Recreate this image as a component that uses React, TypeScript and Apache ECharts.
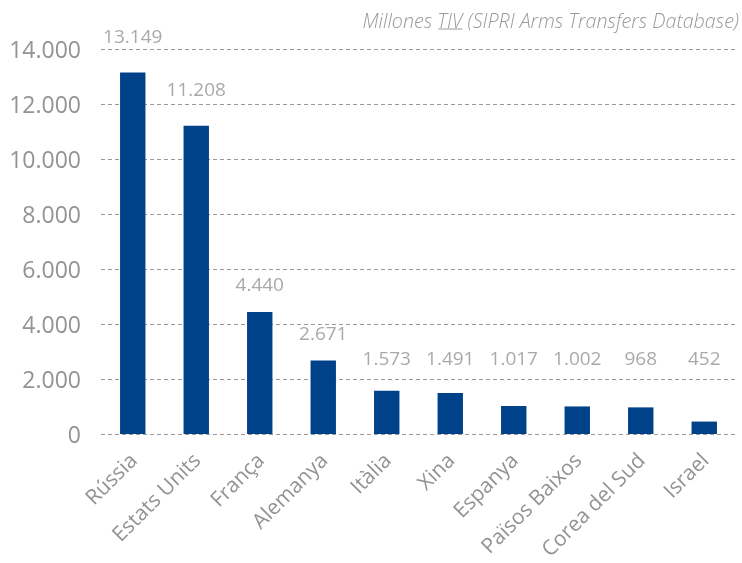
import React, { useEffect, useRef } from "react";
import * as echarts from "echarts";

const categories = [
  "Rússia",
  "Estats Units",
  "França",
  "Alemanya",
  "Itàlia",
  "Xina",
  "Espanya",
  "Països Baixos",
  "Corea del Sud",
  "Israel",
];
const values = [13149, 11208, 4440, 2671, 1573, 1491, 1017, 1002, 968, 452];
const yTicks = [0, 2000, 4000, 6000, 8000, 10000, 12000, 14000];
const titlePre = "Millones ";
const titleUnder = "TIV";
const titlePost = " (SIPRI Arms Transfers Database)";

const FONT = "Open Sans";
const GRAY = "#939393";
const BLUE = "#00428a";

function fmt(v: number): string {
  return String(v).replace(/\B(?=(\d{3})+(?!\d))/g, ".");
}

export default function App() {
  const ref = useRef<HTMLDivElement>(null);
  useEffect(() => {
    if (!ref.current) return;
    const chart = echarts.init(ref.current, undefined, { renderer: "svg" });

    const titleFont = `italic 300 19.7px ${FONT}`;
    const cv = document.createElement("canvas");
    const ctx = cv.getContext("2d")!;
    ctx.font = titleFont;
    const wPost = ctx.measureText(titlePost).width;
    const wUnder = ctx.measureText(titleUnder).width;
    const rightX = 739;

    const labelFloor = 1750;

    chart.setOption({
      animation: false,
      grid: { left: 101, width: 635, top: 49, bottom: 129, containLabel: false },
      xAxis: {
        type: "category",
        data: categories,
        axisLine: { show: false },
        axisTick: { show: false },
        axisLabel: {
          rotate: 45,
          interval: 0,
          margin: 22,
          color: GRAY,
          fontFamily: FONT,
          fontWeight: 400,
          fontSize: 21,
        },
      },
      yAxis: {
        type: "value",
        min: 0,
        max: yTicks[yTicks.length - 1],
        interval: 2000,
        axisLine: { show: false },
        axisTick: { show: false },
        axisLabel: {
          margin: 20,
          color: GRAY,
          fontFamily: FONT,
          fontWeight: 400,
          fontSize: 23,
          formatter: (v: number) => fmt(v),
        },
        splitLine: {
          show: true,
          lineStyle: { color: "#9a9a9a", type: [4, 3], width: 1 },
        },
      },
      series: [
        {
          type: "bar",
          data: values,
          barWidth: "40%",
          itemStyle: { color: BLUE },
          z: 3,
        },
        {
          type: "scatter",
          data: values.map((v) => ({
            value: Math.max(v, labelFloor),
            label: { distance: v > 10000 ? 27 : 18 },
          })),
          symbolSize: 0,
          silent: true,
          label: {
            show: true,
            position: "top",
            distance: 18,
            color: GRAY,
            fontFamily: FONT,
            fontWeight: 400,
            fontSize: 19,
            formatter: (p: any) => fmt(values[p.dataIndex]),
          },
          z: 4,
        },
      ],
      graphic: [
        {
          type: "text",
          x: rightX,
          y: 20,
          style: {
            text: titlePre + titleUnder + titlePost,
            font: titleFont,
            fill: "#999999",
            align: "right",
            verticalAlign: "middle",
          },
        },
        {
          type: "line",
          shape: {
            x1: rightX - wPost - wUnder + 1,
            y1: 29,
            x2: rightX - wPost,
            y2: 29,
          },
          style: { stroke: "#999999", lineWidth: 1 },
        },
      ],
    });
    return () => chart.dispose();
  }, []);
  return (
    <div
      ref={ref}
      style={{ position: "fixed", left: 0, top: 0, width: 742, height: 563 }}
    />
  );
}
